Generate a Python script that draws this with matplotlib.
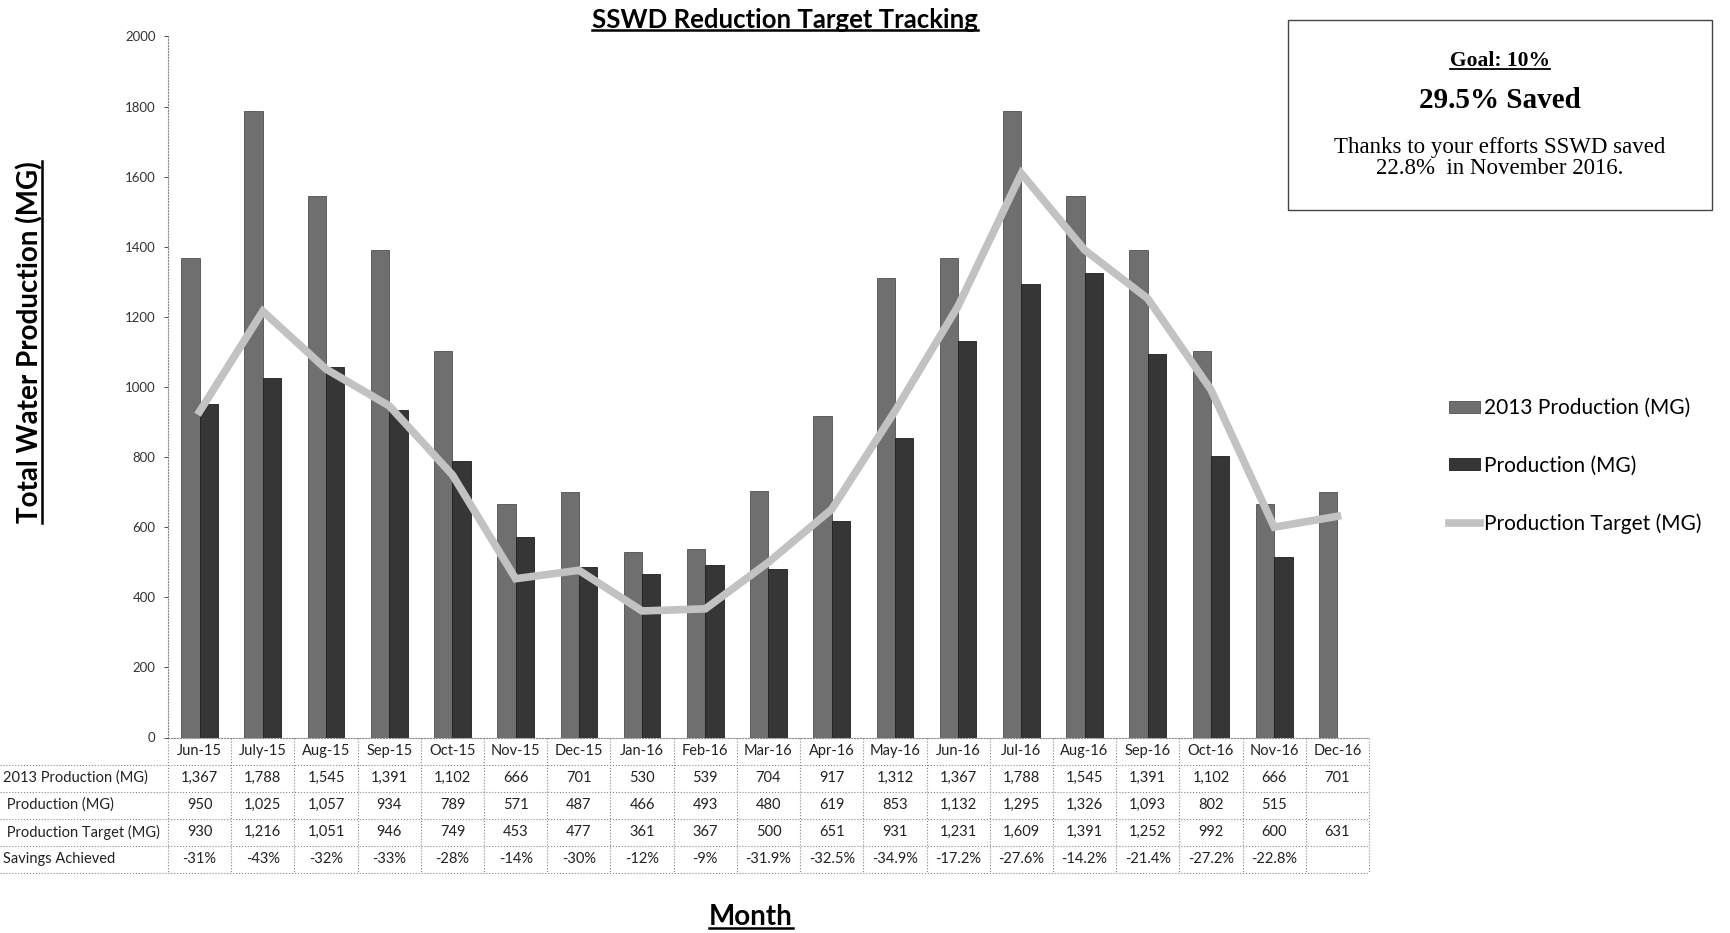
import matplotlib
matplotlib.use("Agg")
import matplotlib.pyplot as plt
import matplotlib.transforms as mtransforms
from matplotlib.lines import Line2D
import numpy as np

months = ["Jun-15", "July-15", "Aug-15", "Sep-15", "Oct-15", "Nov-15", "Dec-15",
          "Jan-16", "Feb-16", "Mar-16", "Apr-16", "May-16", "Jun-16", "Jul-16",
          "Aug-16", "Sep-16", "Oct-16", "Nov-16", "Dec-16"]
prod_2013 = [1367, 1788, 1545, 1391, 1102, 666, 701, 530, 539, 704, 917,
             1312, 1367, 1788, 1545, 1391, 1102, 666, 701]
production = [950, 1025, 1057, 934, 789, 571, 487, 466, 493, 480, 619,
              853, 1132, 1295, 1326, 1093, 802, 515, None]
target = [930, 1216, 1051, 946, 749, 453, 477, 361, 367, 500, 651,
          931, 1231, 1609, 1391, 1252, 992, 600, 631]
savings = ["-31%", "-43%", "-32%", "-33%", "-28%", "-14%", "-30%", "-12%", "-9%",
           "-31.9%", "-32.5%", "-34.9%", "-17.2%", "-27.6%", "-14.2%", "-21.4%",
           "-27.2%", "-22.8%", ""]
row_labels = ["2013 Production (MG)", " Production (MG)",
              " Production Target (MG)", "Savings Achieved"]

plt.rcParams["font.family"] = ["Lato", "DejaVu Sans"]

W, H = 1731, 933
fig = plt.figure(figsize=(W / 100, H / 100), dpi=100)
ax = fig.add_axes([168 / W, 1 - 737.5 / H, (1369 - 168) / W, (737.5 - 36.4) / H])

x = np.arange(len(months))
bw = 0.29
prod_vals = [np.nan if v is None else v for v in production]
b1 = ax.bar(x - bw / 2, prod_2013, bw, color="#6f6f6f", edgecolor="#505050",
            linewidth=0.6, label="2013 Production (MG)", zorder=2)
b2 = ax.bar(x + bw / 2, prod_vals, bw, color="#363636", edgecolor="#1e1e1e",
            linewidth=0.6, label="Production (MG)", zorder=2)
ln, = ax.plot(x, target, color="#c2c2c2", lw=5.5, solid_joinstyle="miter",
              label="Production Target (MG)", zorder=3)

ax.set_xlim(-0.5, len(months) - 0.5)
ax.set_ylim(0, 2000)
ax.set_yticks(range(0, 2001, 200))
ax.tick_params(axis="y", labelsize=9.5, colors="#333333", length=3, width=0.6, pad=6)
ax.set_xticks([])
for s in ["top", "right"]:
    ax.spines[s].set_visible(False)
for s in ["left", "bottom"]:
    ax.spines[s].set_linestyle(":")
    ax.spines[s].set_color("#888888")
    ax.spines[s].set_linewidth(0.8)

# --- data table under the chart ---
row_h = 27 / (737.5 - 36.4)
tr = ax.get_xaxis_transform()
ftr = mtransforms.blended_transform_factory(fig.transFigure, ax.transAxes)
tsize = 10.5
for i, m in enumerate(months):
    ax.text(i, -0.5 * row_h, m, transform=tr, ha="center", va="center",
            fontsize=tsize, color="#222222", clip_on=False)
    cells = [f"{prod_2013[i]:,}",
             "" if production[i] is None else f"{production[i]:,}",
             f"{target[i]:,}", savings[i]]
    for j, c in enumerate(cells):
        ax.text(i, -(j + 1.5) * row_h, c, transform=tr, ha="center", va="center",
                fontsize=tsize, color="#222222", clip_on=False)
for j, lab in enumerate(row_labels):
    ax.text(3 / W, -(j + 1.5) * row_h, lab, transform=ftr, ha="left",
            va="center", fontsize=tsize, color="#222222", clip_on=False)

right_f = 1369 / W
for k in range(1, 6):
    fig.add_artist(Line2D([0, right_f], [-k * row_h, -k * row_h], transform=ftr,
                          ls=":", color="#888888", lw=0.8))
for i in range(len(months) + 1):
    ax.add_line(Line2D([i - 0.5, i - 0.5], [0, -5 * row_h], transform=tr,
                       ls=":", color="#888888", lw=0.8, clip_on=False))

# --- titles ---
t_title = fig.text(785 / W, 1 - 20 / H, "SSWD Reduction Target Tracking", ha="center",
                   va="center", fontsize=18.5, fontweight="bold")
t_ylab = fig.text(30 / W, 1 - 342 / H, "Total Water Production (MG)", rotation=90,
                  ha="center", va="center", fontsize=20, fontweight="bold")
t_month = fig.text(751 / W, 1 - 917 / H, "Month", ha="center", va="center",
                   fontsize=20, fontweight="bold")

# --- goal box ---
fig.add_artist(plt.Rectangle((1288 / W, 1 - 210 / H), (1712 - 1288) / W, 190 / H,
                             transform=fig.transFigure, fill=False,
                             edgecolor="#444444", lw=1.0))
cx = 1500 / W
serif = ["Liberation Serif", "DejaVu Serif"]
t_goal = fig.text(cx, 1 - 61 / H, "Goal: 10%", ha="center", va="center", fontsize=15.5,
                  family=serif, fontweight="bold")
fig.text(cx, 1 - 101 / H, "29.5% Saved", ha="center", va="center", fontsize=21,
         family=serif, fontweight="bold")
fig.text(cx, 1 - 147 / H, "Thanks to your efforts SSWD saved", ha="center",
         va="center", fontsize=16.5, family=serif)
fig.text(cx, 1 - 168 / H, "22.8%  in November 2016.", ha="center",
         va="center", fontsize=16.5, family=serif)

fig.legend(handles=[b1, b2, ln], loc="center left",
           bbox_to_anchor=(1430 / W, 1 - 466 / H), frameon=False, fontsize=15,
           labelspacing=1.8, handlelength=1.5, handletextpad=0.2, handleheight=0.5)

# underlines sized to the drawn text
fig.canvas.draw()
r = fig.canvas.get_renderer()
for t, lw in [(t_title, 1.8), (t_month, 1.8), (t_goal, 1.3)]:
    bb = t.get_window_extent(r)
    y = bb.y0 + 2
    fig.add_artist(Line2D([bb.x0 / W, bb.x1 / W], [y / H, y / H], color="black", lw=lw))
bb = t_ylab.get_window_extent(r)
xl = bb.x1 - 2
fig.add_artist(Line2D([xl / W, xl / W], [bb.y0 / H, bb.y1 / H], color="black", lw=1.8))

fig.savefig("out.png", dpi=100)
